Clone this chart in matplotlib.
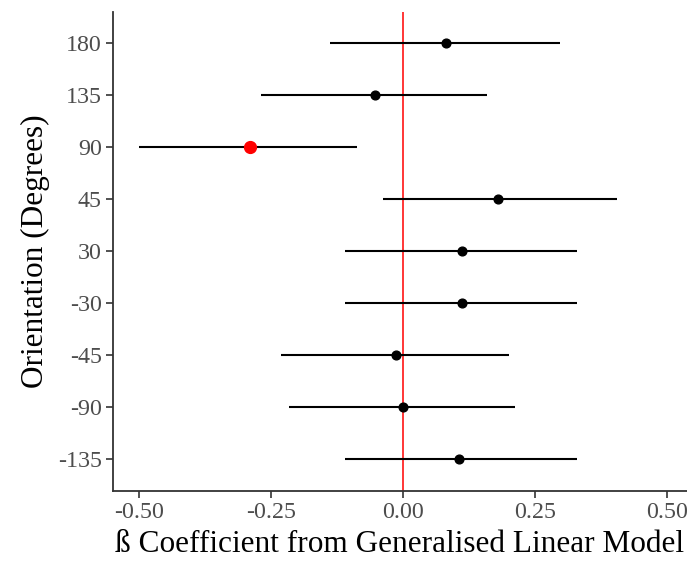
import numpy as np
import matplotlib.pyplot as plt

# orientation categories, bottom to top
orient = ["-135", "-90", "-45", "-30", "30", "45", "90", "135", "180"]
beta = [0.107, 0.0, -0.014, 0.111, 0.111, 0.181, -0.29, -0.052, 0.081]
lower = [-0.11, -0.215, -0.23, -0.11, -0.11, -0.038, -0.50, -0.268, -0.139]
upper = [0.329, 0.213, 0.20, 0.329, 0.329, 0.405, -0.086, 0.160, 0.297]
signif = [False, False, False, False, False, False, True, False, False]

plt.rcParams['font.family'] = ['Liberation Serif', 'DejaVu Serif']

fig = plt.figure(figsize=(6.87, 5.70), dpi=100)
ax = fig.add_axes([0.1645, 0.139, 0.8355, 0.84])

ypos = np.arange(1, len(orient) + 1)
ax.axvline(0, color='#ff0000', lw=1.1, zorder=1)
ax.hlines(ypos, lower, upper, color='black', lw=1.5, zorder=2)
for y, b, s in zip(ypos, beta, signif):
    if s:
        ax.plot(b, y, 'o', color='#ff0000', ms=8.5, zorder=3)
    else:
        ax.plot(b, y, 'o', color='black', ms=6.3, zorder=3)

ax.set_xlim(-0.549, 0.538)
ax.set_ylim(0.39, 9.6)
ax.set_yticks(ypos)
ax.set_yticklabels(orient)
ax.set_xticks([-0.5, -0.25, 0, 0.25, 0.5])
ax.set_xticklabels(["-0.50", "-0.25", "0.00", "0.25", "0.50"])

for s in ['top', 'right']:
    ax.spines[s].set_visible(False)
for s in ['left', 'bottom']:
    ax.spines[s].set_linewidth(1.3)
    ax.spines[s].set_color('#333333')
ax.tick_params(axis='both', length=5, width=1.2, color='#333333',
               labelcolor='#4d4d4d', labelsize=17.3, pad=3)

ax.set_xlabel("ß Coefficient from Generalised Linear Model", fontsize=22.5, labelpad=5)
ax.set_ylabel("Orientation (Degrees)", fontsize=22.5, labelpad=6)

fig.savefig("out.png", dpi=100)
